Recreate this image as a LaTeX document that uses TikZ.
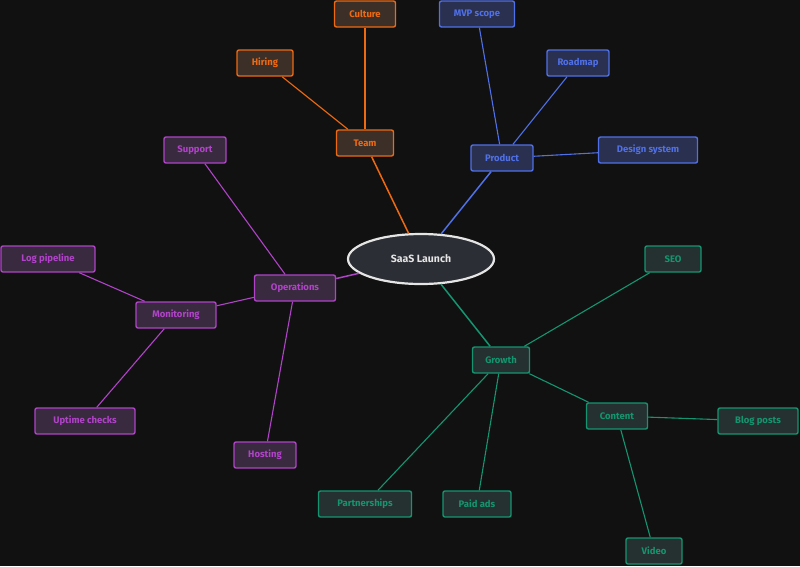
\documentclass[tikz,border=0pt]{standalone}
\usepackage{fontspec}
\setmainfont{Fira Sans}
\usetikzlibrary{shapes.geometric}
\definecolor{bg}{HTML}{111111}
\definecolor{orA}{HTML}{EE6A12}
\definecolor{orF}{HTML}{3C2F28}
\definecolor{blA}{HTML}{5070E8}
\definecolor{blF}{HTML}{2A3050}
\definecolor{puA}{HTML}{B043C8}
\definecolor{puF}{HTML}{3A2A40}
\definecolor{grA}{HTML}{14956F}
\definecolor{grF}{HTML}{253130}
\definecolor{rootF}{HTML}{2C2E35}
\tikzset{
  box/.style={rectangle, rounded corners=2pt, line width=1.4pt, minimum height=26pt,
    inner sep=0pt, font=\fontsize{9.5}{11}\selectfont\bfseries},
  ob/.style={box, draw=orA, fill=orF, text=orA},
  bb/.style={box, draw=blA, fill=blF, text=blA},
  pb/.style={box, draw=puA, fill=puF, text=puA},
  gb/.style={box, draw=grA, fill=grF, text=grA},
  hub/.style={line width=1.5pt},
  sub/.style={line width=1.1pt},
}
\begin{document}
\begin{tikzpicture}[x=1pt,y=-1pt]
\fill[bg] (0,0) rectangle (800,566);
\useasboundingbox (0,0) rectangle (800,566);
% root
\node[ellipse, draw=white!90!black, line width=2.2pt, fill=rootF, minimum width=146pt, minimum height=50pt, inner sep=0pt, text=white!90!black, font=\fontsize{10.5}{12}\selectfont\bfseries] (root) at (421,259) {SaaS Launch};
% team
\node[ob, minimum width=57pt] (team) at (365,143) {Team};
\node[ob, minimum width=61pt] (culture) at (365,14) {Culture};
\node[ob, minimum width=56pt] (hiring) at (265,63) {Hiring};
% product
\node[bb, minimum width=62pt] (product) at (502,158) {Product};
\node[bb, minimum width=75pt] (mvp) at (477,14) {MVP scope};
\node[bb, minimum width=62pt] (roadmap) at (578,63) {Roadmap};
\node[bb, minimum width=99pt] (design) at (648,150) {Design system};
% operations
\node[pb, minimum width=81pt] (ops) at (295,288) {Operations};
\node[pb, minimum width=62pt] (support) at (195,150) {Support};
\node[pb, minimum width=80pt] (monitor) at (176,315) {Monitoring};
\node[pb, minimum width=94pt] (logp) at (48,259) {Log pipeline};
\node[pb, minimum width=100pt] (uptime) at (85,421) {Uptime checks};
\node[pb, minimum width=62pt] (hosting) at (265,455) {Hosting};
% growth
\node[gb, minimum width=57pt] (growth) at (501,360) {Growth};
\node[gb, minimum width=56pt] (seo) at (673,259) {SEO};
\node[gb, minimum width=61pt] (content) at (617,416) {Content};
\node[gb, minimum width=80pt] (blog) at (758,421) {Blog posts};
\node[gb, minimum width=93pt] (partner) at (365,504) {Partnerships};
\node[gb, minimum width=68pt] (paid) at (477,504) {Paid ads};
\node[gb, minimum width=56pt] (video) at (654,551) {Video};
% edges
\draw[hub, orA] (root) -- (team);
\draw[sub, orA] (team) -- (culture);
\draw[sub, orA] (team) -- (hiring);
\draw[hub, blA] (root) -- (product);
\draw[sub, blA] (product) -- (mvp);
\draw[sub, blA] (product) -- (roadmap);
\draw[sub, blA] (product) -- (design);
\draw[hub, puA] (root) -- (ops);
\draw[sub, puA] (ops) -- (support);
\draw[sub, puA] (ops) -- (monitor);
\draw[sub, puA] (monitor) -- (logp);
\draw[sub, puA] (monitor) -- (uptime);
\draw[sub, puA] (ops) -- (hosting);
\draw[hub, grA] (root) -- (growth);
\draw[sub, grA] (growth) -- (seo);
\draw[sub, grA] (growth) -- (content);
\draw[sub, grA] (content) -- (blog);
\draw[sub, grA] (content) -- (video);
\draw[sub, grA] (growth) -- (partner);
\draw[sub, grA] (growth) -- (paid);
\end{tikzpicture}
\end{document}
